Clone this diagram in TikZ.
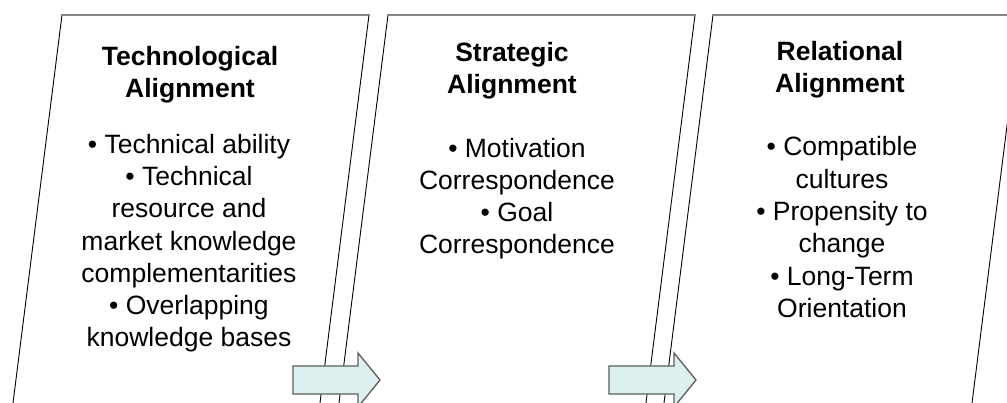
\documentclass[tikz,border=0pt]{standalone}
\usepackage{fontspec}
\setmainfont{Liberation Sans}
\definecolor{edgegray}{HTML}{858585}
\definecolor{arrowfill}{HTML}{DDF0F0}
\definecolor{arrowdraw}{HTML}{5C5C5C}
\begin{document}
\begin{tikzpicture}[x=1pt,y=-1pt,
  side/.style={draw=black,line width=0.9pt},
  topedge/.style={draw=edgegray,line width=1.8pt},
  titletext/.style={font=\fontsize{26.5}{31.5}\selectfont\bfseries,align=center,anchor=base,inner sep=0pt},
  bodytext/.style={font=\fontsize{26.5}{32.3}\selectfont,align=center,anchor=base,inner sep=0pt},
  blockarrow/.style={fill=arrowfill,draw=arrowdraw,line width=1.3pt,line join=miter}]
\useasboundingbox (0,0) rectangle (1007,403);
\clip (0,0) rectangle (1007,403);
% panels
\draw[side] (13,403) -- (62,15);
\draw[side] (369,15) -- (320,403);
\draw[topedge] (61,15) -- (370,15);
\draw[side] (339,403) -- (388,15);
\draw[side] (695,15) -- (646,403);
\draw[topedge] (387,15) -- (696,15);
\draw[side] (664,403) -- (713,15);
\draw[side] (1021,15) -- (972,403);
\draw[topedge] (712,15) -- (1022,15);
% arrows
\draw[blockarrow] (293,366) -- (358,366) -- (358,353) -- (380,380) -- (358,407) -- (358,394) -- (293,394) -- cycle;
\draw[blockarrow] (609,366) -- (674,366) -- (674,353) -- (696,380) -- (674,407) -- (674,394) -- (609,394) -- cycle;
% texts (anchor = baseline of last line)
\node[titletext] (t1) at (190,97.5) {Technological\\Alignment};
\node[bodytext] (b1) at (189,347) {• Technical ability\\• Technical\\resource and\\market knowledge\\complementarities\\• Overlapping\\knowledge bases};
\node[titletext] (t2) at (512,93.5) {Strategic\\Alignment};
\node[bodytext] (b2) at (517,254) {• Motivation\\Correspondence\\• Goal\\Correspondence};
\node[titletext] (t3) at (840,92.5) {Relational\\Alignment};
\node[bodytext] (b3) at (842,317.5) {• Compatible\\cultures\\• Propensity to\\change\\• Long-Term\\Orientation};
\end{tikzpicture}
\end{document}
